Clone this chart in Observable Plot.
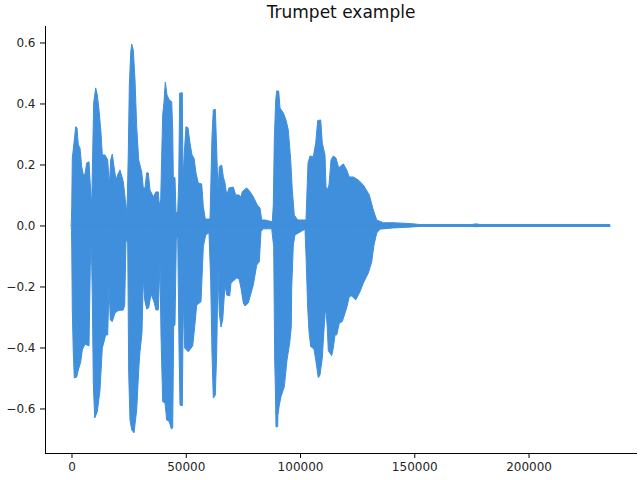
<!DOCTYPE html>
<html>
<head>
<meta charset="utf-8">
<style>
html,body{margin:0;padding:0;background:#fff}
svg{display:block}
</style>
<script src="https://cdn.jsdelivr.net/npm/d3@7"></script>
<script src="https://cdn.jsdelivr.net/npm/@observablehq/plot@0.6"></script>
</head>
<body>
<div id="chart"></div>
<script>
const title = "Trumpet example";
const xTicks = [0, 50000, 100000, 150000, 200000];
const yTicks = [-0.6, -0.4, -0.2, 0, 0.2, 0.4, 0.6];
const waveColor = "#3f8fdc";
const lastSample = 235650;

const upperSample = [0,100,350,1225,1840,2405,2975,3720,4465,5165,5910,6650,7660,8095,8840,9275,9715,10590,11290,12035,12910,13480,14660,15840,16540,17155,17855,18600,19475,20215,21225,22670,23540,24285,24855,25295,25905,26345,27045,27790,28530,29405,30720,31420,32165,32910,33610,34350,35800,36975,37985,38420,39035,39470,39910,40480,41050,41790,42800,43850,44285,44550,45290,45730,46475,46910,47350,48490,48790,49360,50105,50980,51855,52730,53605,54480,55490,56975,57680,58550,60610,60915,61480,62050,62930,63540,64110,64680,65730,66430,67170,67920,68920,70800,71850,73300,74170,74740,76670,78110,79560,81310,82490,83230,84670,87870,88310,88745,89360,89795,90670,91240,92690,93865,94870,95920,96620,97500,98985,102620,102925,103495,104370,105810,106860,107735,109050,109750,110930,111370,111940,112680,113560,114565,115745,116925,118940,120430,121565,123315,125505,127695,130315,132070,133555,136445,140690,148870,152500,175130,176570,177450,178760,235650];
const upperValue = [.03,.057,.221,.28,.324,.32,.264,.254,.193,.166,.169,.205,.209,.149,.062,.238,.402,.451,.428,.379,.303,.231,.231,.215,.13,.215,.234,.193,.149,.166,.182,.144,.084,.042,.238,.455,.566,.595,.575,.477,.324,.215,.176,.123,.123,.173,.172,.116,.094,.11,.11,.067,.084,.226,.362,.406,.47,.428,.411,.406,.313,.16,.156,.041,.045,.139,.434,.435,.144,.238,.324,.32,.27,.231,.221,.172,.139,.136,.062,.021,.021,.116,.291,.379,.381,.248,.111,.193,.198,.16,.139,.1,.123,.126,.1,.1,.093,.111,.123,.111,.094,.067,.057,.018,.018,.012,.067,.28,.411,.441,.441,.385,.369,.346,.313,.215,.116,.034,.018,.018,.084,.205,.228,.225,.27,.344,.346,.27,.231,.127,.116,.133,.215,.228,.221,.189,.202,.182,.159,.159,.149,.133,.1,.051,.018,.009,.009,.006,.003,.003,.005,.005,.003,.003];

const lowerSample = [0,100,350,790,1225,2275,2975,4025,4725,5910,7660,8225,8665,9100,9540,10150,11290,12470,13480,14965,15840,16410,16980,17855,19035,20480,22670,23280,23850,24595,25030,25600,26345,27350,28530,29405,29975,30850,31420,32035,32910,33785,34790,36100,36975,37985,38730,39165,39910,40915,41660,42800,43695,44285,44725,45290,45860,46475,47040,47480,48490,48925,49540,51110,53035,53910,54790,56670,57680,58730,60170,60915,61480,62050,62930,63540,64110,64680,65420,66165,67170,67920,69230,69800,72290,73300,74170,75180,75920,77370,79560,81050,82180,82925,83930,87610,88485,88920,89185,89490,90235,90320,90935,91680,93125,94305,95485,96185,96360,97060,97800,102180,102620,103360,103930,104675,106120,106995,108000,108745,109750,110625,111240,111940,112375,113860,114565,115310,116050,117190,118500,120430,121565,122620,124365,126250,127695,129880,131370,132370,133555,135000,140690,148870,152500,175130,176570,177450,178760,235650];
const lowerValue = [-.018,-.064,-.277,-.418,-.5,-.497,-.474,-.448,-.408,-.389,-.395,-.135,-.053,-.228,-.516,-.631,-.611,-.539,-.402,-.359,-.359,-.195,-.31,-.315,-.287,-.279,-.277,-.261,-.048,-.057,-.484,-.638,-.67,-.68,-.605,-.474,-.414,-.352,-.172,-.244,-.274,-.27,-.225,-.25,-.277,-.277,-.123,-.359,-.578,-.581,-.638,-.643,-.667,-.664,-.33,-.326,-.048,-.031,-.397,-.589,-.591,-.244,-.402,-.414,-.395,-.332,-.261,-.25,-.07,-.031,-.024,-.179,-.418,-.566,-.556,-.418,-.146,-.287,-.333,-.31,-.195,-.228,-.231,-.189,-.172,-.175,-.205,-.254,-.264,-.254,-.195,-.13,-.119,-.02,-.011,-.011,-.07,-.441,-.523,-.66,-.66,-.621,-.589,-.561,-.529,-.441,-.385,-.332,-.205,-.064,-.031,-.012,-.097,-.27,-.348,-.397,-.405,-.447,-.499,-.49,-.434,-.326,-.266,-.336,-.411,-.427,-.402,-.359,-.359,-.32,-.315,-.27,-.233,-.231,-.244,-.217,-.189,-.156,-.119,-.064,-.025,-.012,-.008,-.005,-.003,-.003,-.004,-.004,-.003,-.003];

const upper = upperSample.map((x, i) => ({x, y: upperValue[i]}));
const lower = lowerSample.map((x, i) => ({x, y: lowerValue[i]}));

const plot = Plot.plot({
  width: 640,
  height: 480,
  marginTop: 26,
  marginBottom: 27,
  marginLeft: 45,
  marginRight: 4,
  style: {fontFamily: "DejaVu Sans", background: "#fff", color: "#262626"},
  x: {domain: [-11596, 247025], label: null},
  y: {domain: [-0.746, 0.654], label: null},
  marks: [
    Plot.areaY(upper, {x: "x", y: "y", fill: waveColor, stroke: waveColor, strokeWidth: 1}),
    Plot.areaY(lower, {x: "x", y: "y", fill: waveColor, stroke: waveColor, strokeWidth: 1}),
    Plot.ruleY([0], {x1: 0, x2: lastSample, stroke: waveColor, strokeWidth: 1}),
    Plot.frame({anchor: "left", stroke: "#000", strokeWidth: 1}),
    Plot.frame({anchor: "bottom", stroke: "#000", strokeWidth: 1}),
    Plot.axisX({ticks: xTicks, tickFormat: d => String(d), tickSize: 5, tickPadding: 4, fontSize: 12, label: null, stroke: "#000", fill: "#262626"}),
    Plot.axisY({ticks: yTicks, tickFormat: d3.format(".1f"), tickSize: 5, tickPadding: 5, fontSize: 12, label: null, stroke: "#000", fill: "#262626"}),
    Plot.text([title], {frameAnchor: "top", dy: -14, fontSize: 17, fill: "#111", lineAnchor: "middle"})
  ]
});
document.getElementById("chart").appendChild(plot);
</script>
</body>
</html>
